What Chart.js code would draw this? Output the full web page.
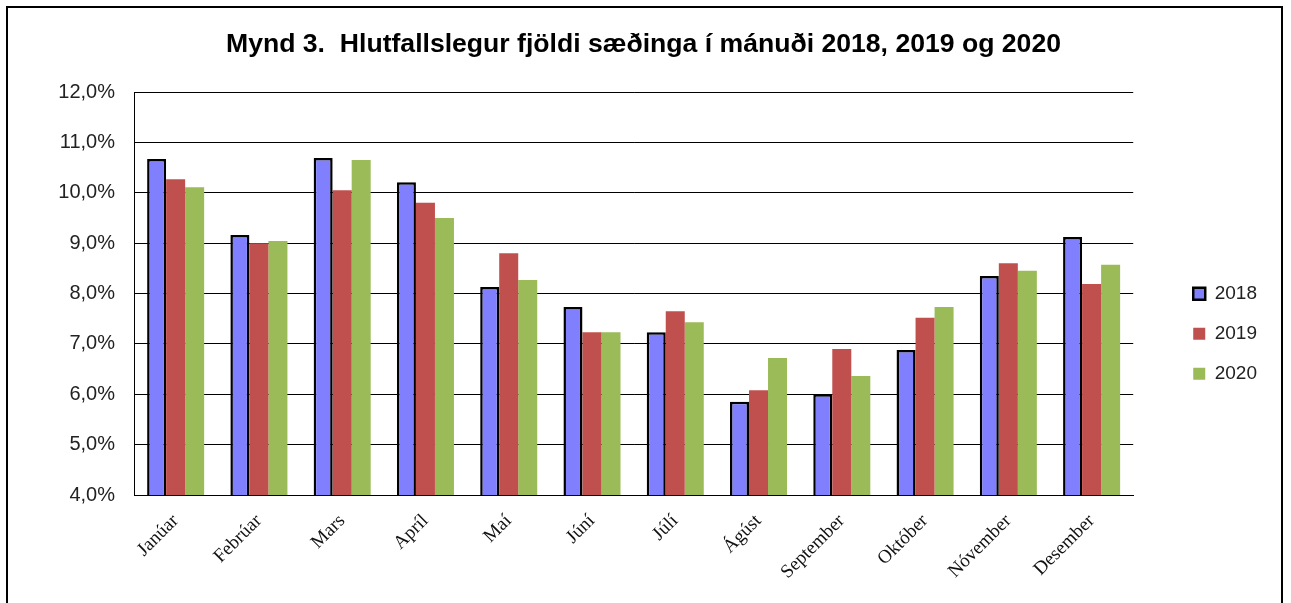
<!DOCTYPE html>
<html>
<head>
<meta charset="utf-8">
<script src="https://cdn.jsdelivr.net/npm/chart.js@4.4.1/dist/chart.umd.min.js"></script>
<style>
  html, body { margin: 0; padding: 0; background: #fff; }
  #frame { position: absolute; left: 6px; top: 6px; width: 1273px; height: 620px; border: 2px solid #000; border-bottom: none; }
  canvas { position: absolute; left: 0; top: 0; }
</style>
</head>
<body>
<div id="frame"></div>
<canvas id="birthChart" width="1291" height="603"></canvas>
<script>
// mánuðir og hlutfall sæðinga (%)
const months = ['Janúar', 'Febrúar', 'Mars', 'Apríl', 'Maí', 'Júní', 'Júlí', 'Ágúst', 'September', 'Október', 'Nóvember', 'Desember'];
const years = ['2018', '2019', '2020'];
const values2018 = [10.67, 9.16, 10.69, 10.21, 8.13, 7.73, 7.23, 5.85, 6.00, 6.88, 8.35, 9.12];
const values2019 = [10.27, 9.00, 10.05, 9.80, 8.80, 7.23, 7.65, 6.08, 6.90, 7.52, 8.60, 8.19];
const values2020 = [10.11, 9.04, 10.65, 9.50, 8.27, 7.23, 7.43, 6.72, 6.36, 7.73, 8.45, 8.57];
const yTicks = [4, 5, 6, 7, 8, 9, 10, 11, 12];

const sans = "'Liberation Sans', Arial, sans-serif";
const serif = "'Liberation Serif', 'Times New Roman', serif";

const ctx = document.getElementById('birthChart').getContext('2d');
const chart = new Chart(ctx, {
  type: 'bar',
  data: {
    labels: months,
    datasets: [
      { label: years[0], data: values2018, backgroundColor: '#8080FF', borderColor: '#000', borderWidth: 2.5, borderSkipped: false },
      { label: years[1], data: values2019, backgroundColor: '#C0504D', borderWidth: 0 },
      { label: years[2], data: values2020, backgroundColor: '#9BBB59', borderWidth: 0 }
    ]
  },
  options: {
    responsive: false,
    animation: false,
    categoryPercentage: 0.685,
    barPercentage: 1.0,
    layout: { padding: { left: 20, right: 24, top: 0, bottom: 8 } },
    plugins: {
      tooltip: { enabled: false },
      title: {
        display: true,
        text: 'Mynd 3.  Hlutfallslegur fjöldi sæðinga í mánuði 2018, 2019 og 2020',
        color: '#000',
        font: { family: sans, size: 26.6, weight: 'bold' },
        padding: { top: 28.4, bottom: 31.7 }
      },
      legend: {
        position: 'right',
        align: 'center',
        title: { display: true, text: '', font: { size: 10 }, padding: { top: 60.6, bottom: 0 } },
        labels: {
          boxWidth: 12,
          boxHeight: 12,
          padding: 21,
          color: '#222',
          font: { family: sans, size: 19 }
        }
      }
    },
    scales: {
      x: {
        grid: { display: false },
        border: { color: '#000', width: 1 },
        ticks: {
          autoSkip: false,
          maxRotation: 45,
          minRotation: 45,
          padding: 7,
          color: '#111',
          font: { family: serif, size: 19 }
        },
        afterFit: s => { s.height = 100; }
      },
      y: {
        min: 4,
        max: 12,
        afterBuildTicks: s => { s.ticks = yTicks.map(v => ({ value: v })); },
        grid: { color: '#000', lineWidth: 1, drawTicks: false },
        border: { color: '#000', width: 1 },
        ticks: {
          padding: 19,
          color: '#222',
          font: { family: sans, size: 20 },
          callback: v => v.toFixed(1).replace('.', ',') + '%'
        },
        afterFit: s => { s.width = 114; }
      },
      gap: {
        type: 'linear',
        position: 'right',
        grid: { display: false },
        border: { display: false },
        ticks: { display: false },
        afterFit: s => { s.width = 39; }
      }
    }
  }
});
</script>
</body>
</html>
